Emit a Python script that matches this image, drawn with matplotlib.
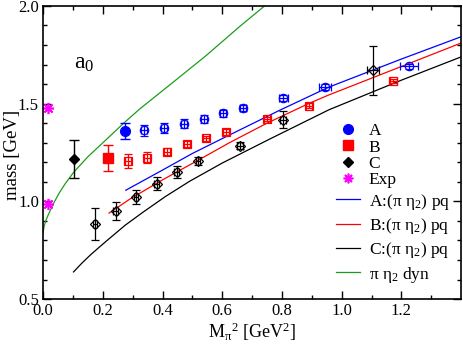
import numpy as np
import matplotlib
matplotlib.use('Agg')
import matplotlib.pyplot as plt
from matplotlib.lines import Line2D

plt.rcParams['font.family'] = 'Liberation Serif'
plt.rcParams['mathtext.fontset'] = 'custom'
plt.rcParams['mathtext.rm'] = 'Liberation Serif'
plt.rcParams['mathtext.it'] = 'Liberation Serif'
plt.rcParams['font.size'] = 11

# ---- data ----
# filled points (full QCD)
xA, yA, eA = [0.275], [1.361], [0.040]
xB, yB, eB = [0.219], [1.220], [0.067]
xC, yC, eC = [0.102], [1.217], [0.095]
xExp = [0.018, 0.018]
yExp = [1.480, 0.986]

# open points (partially quenched)
xA_pq = [0.339, 0.404, 0.471, 0.538, 0.603, 0.669, 0.805, 0.943, 1.224]
yA_pq = [1.364, 1.374, 1.398, 1.421, 1.450, 1.476, 1.529, 1.584, 1.691]
eyA_pq = [0.028, 0.025, 0.022, 0.020, 0.018, 0.016, 0.016, 0.015, 0.014]
exA_pq = [0.010, 0.010, 0.010, 0.010, 0.010, 0.010, 0.015, 0.020, 0.030]

xB_pq = [0.285, 0.349, 0.415, 0.482, 0.547, 0.613, 0.750, 0.889, 1.173]
yB_pq = [1.206, 1.224, 1.255, 1.292, 1.322, 1.356, 1.421, 1.490, 1.615]
eyB_pq = [0.037, 0.030, 0.020, 0.016, 0.014, 0.014, 0.012, 0.012, 0.012]
exB_pq = [0.010, 0.010, 0.010, 0.010, 0.010, 0.010, 0.010, 0.010, 0.012]

xC_pq = [0.174, 0.243, 0.311, 0.380, 0.447, 0.519, 0.660, 0.805, 1.104]
yC_pq = [0.885, 0.952, 1.023, 1.090, 1.152, 1.206, 1.284, 1.418, 1.670]
eyC_pq = [0.082, 0.047, 0.036, 0.034, 0.030, 0.022, 0.018, 0.045, 0.125]
exC_pq = [0.008, 0.008, 0.008, 0.008, 0.008, 0.008, 0.010, 0.010, 0.020]

# fit curves
xA_fit = [0.277, 0.400, 0.500, 0.613, 0.791, 0.958, 1.200, 1.400]
yA_fit = [1.057, 1.160, 1.245, 1.331, 1.465, 1.585, 1.728, 1.842]
xB_fit = [0.221, 0.291, 0.400, 0.513, 0.624, 0.750, 0.889, 0.958, 1.200, 1.400]
yB_fit = [0.940, 1.012, 1.110, 1.205, 1.300, 1.400, 1.500, 1.545, 1.690, 1.810]
xC_fit = [0.102, 0.130, 0.160, 0.190, 0.219, 0.275, 0.335, 0.410, 0.491, 0.600, 0.758, 0.958, 1.200, 1.400]
yC_fit = [0.639, 0.684, 0.728, 0.768, 0.806, 0.878, 0.945, 1.025, 1.103, 1.196, 1.318, 1.469, 1.620, 1.739]
x_dyn = [0.000, 0.004, 0.010, 0.020, 0.035, 0.055, 0.074, 0.102, 0.150, 0.213,
         0.270, 0.324, 0.436, 0.547, 0.658, 0.750]
y_dyn = [0.840, 0.875, 0.905, 0.940, 0.990, 1.045, 1.090, 1.148, 1.228, 1.318,
         1.400, 1.473, 1.610, 1.747, 1.894, 2.010]

blue, red, black, mag, green = '#0000ff', '#ff0000', '#000000', '#ff00ff', '#1a9e1a'

fig = plt.figure(figsize=(4.63, 3.45), dpi=100)
ax = fig.add_axes([0.093, 0.133, 0.903, 0.85])

# lines
ax.plot(xA_fit, yA_fit, color=blue, lw=0.9)
ax.plot(xB_fit, yB_fit, color=red, lw=0.9)
ax.plot(xC_fit, yC_fit, color=black, lw=0.9)
ax.plot(x_dyn, y_dyn, color=green, lw=0.9)

# open symbols
ax.errorbar(xA_pq, yA_pq, yerr=eyA_pq, xerr=exA_pq, fmt='o', ms=6, mfc='none',
            mec=blue, mew=0.9, ecolor=blue, elinewidth=0.9, capsize=3)
ax.errorbar(xB_pq, yB_pq, yerr=eyB_pq, xerr=exB_pq, fmt='s', ms=5.5, mfc='none',
            mec=red, mew=0.9, ecolor=red, elinewidth=0.9, capsize=3)
ax.errorbar(xC_pq, yC_pq, yerr=eyC_pq, xerr=exC_pq, fmt='D', ms=5, mfc='none',
            mec=black, mew=0.9, ecolor=black, elinewidth=0.9, capsize=3)

# filled symbols
ax.errorbar(xA, yA, yerr=eA, fmt='o', ms=7, color=blue, elinewidth=1, capsize=3.5)
ax.errorbar(xB, yB, yerr=eB, fmt='s', ms=6.5, color=red, elinewidth=1, capsize=3.5)
ax.errorbar(xC, yC, yerr=eC, fmt='D', ms=5.5, color=black, elinewidth=1, capsize=3.5)
ax.plot(xExp, yExp, ls='none', marker=(8, 2, 0), ms=8, mew=1.2, color=mag)

ax.set_xlim(0, 1.4)
ax.set_ylim(0.5, 2.0)
ax.set_xticks([0.0, 0.2, 0.4, 0.6, 0.8, 1.0, 1.2])
ax.set_xticklabels(['0.0', '0.2', '0.4', '0.6', '0.8', '1.0', '1.2'])
ax.set_xticks(np.arange(0.1, 1.4, 0.2), minor=True)
ax.set_yticks([0.5, 1.0, 1.5, 2.0])
ax.set_yticklabels(['0.5', '1.0', '1.5', '2.0'])
ax.set_yticks([0.6, 0.7, 0.8, 0.9, 1.1, 1.2, 1.3, 1.4, 1.6, 1.7, 1.8, 1.9], minor=True)
ax.tick_params(which='both', direction='in', top=True, right=True, labelsize=12, pad=3)
ax.tick_params(which='major', length=6, width=1)
ax.tick_params(which='minor', length=3, width=1)
for s in ax.spines.values():
    s.set_linewidth(1.2)

ax.set_xlabel(r'M$_{\mathrm{\pi}}$$^2$ [GeV$^2$]', fontsize=13, labelpad=1)
ax.set_ylabel('mass [GeV]', fontsize=13.5)
ax.yaxis.set_label_coords(-0.052, 0.49)
ax.text(0.105, 1.68, r'a$_0$', fontsize=17)

# legend: symbols
h_sym = [
    Line2D([], [], ls='none', marker='o', ms=7, color=blue),
    Line2D([], [], ls='none', marker='s', ms=6.5, color=red),
    Line2D([], [], ls='none', marker='D', ms=5.5, color=black),
    Line2D([], [], ls='none', marker=(8, 2, 0), ms=7, mew=1.2, color=mag),
]
l_sym = ['A', 'B', 'C', 'Exp']
leg1 = ax.legend(h_sym, l_sym, loc='upper left', bbox_to_anchor=(0.706, 0.668),
                 bbox_transform=fig.transFigure, frameon=False, fontsize=12.5,
                 handlelength=1.4, handletextpad=0.5, labelspacing=0.0, borderpad=0)
ax.add_artist(leg1)

# legend: curves
h_lin = [
    Line2D([], [], color=blue, lw=0.9),
    Line2D([], [], color=red, lw=0.9),
    Line2D([], [], color=black, lw=0.9),
    Line2D([], [], color=green, lw=0.9),
]
l_lin = [r'A:(π η$_2$) pq', r'B:(π η$_2$) pq', r'C:(π η$_2$) pq', r'π η$_2$ dyn']
ax.legend(h_lin, l_lin, loc='upper left', bbox_to_anchor=(0.706, 0.47),
          bbox_transform=fig.transFigure, frameon=False, fontsize=12.5,
          handlelength=1.4, handletextpad=0.5, labelspacing=0.25, borderpad=0)

fig.savefig('out.png', dpi=100)
